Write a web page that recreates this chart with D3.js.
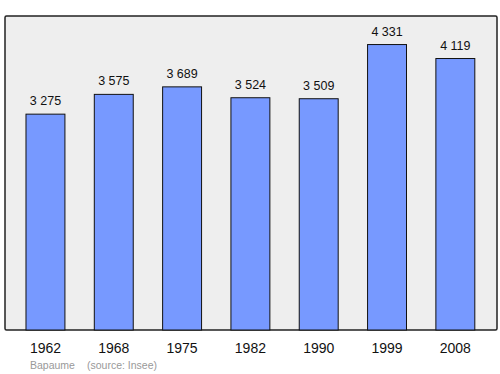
<!DOCTYPE html>
<html>
<head>
<meta charset="utf-8">
<script src="https://cdn.jsdelivr.net/npm/d3@7"></script>
<style>
  body { margin: 0; background: #fff; }
  text { font-family: "Liberation Sans", Arial, sans-serif; }
</style>
</head>
<body>
<svg id="chart" width="500" height="374"></svg>
<script>
var years = ["1962", "1968", "1975", "1982", "1990", "1999", "2008"];
var population = [3275, 3575, 3689, 3524, 3509, 4331, 4119];
var town = "Bapaume";
var source = "(source: Insee)";

var svg = d3.select("#chart");
var panel = { left: 5, top: 16, right: 497, bottom: 330 };

svg.append("rect")
    .attr("x", panel.left)
    .attr("y", panel.top)
    .attr("width", panel.right - panel.left)
    .attr("height", panel.bottom - panel.top)
    .attr("rx", 1.5)
    .style("fill", "#eeeeee")
    .style("stroke", "#222")
    .style("stroke-width", 1.5);

var x = d3.scaleBand()
    .domain(years)
    .range([11.3, 489.5])
    .paddingInner(0.43)
    .paddingOuter(0.215);

var y = d3.scaleLinear()
    .domain([0, d3.max(population) * 1.1])
    .range([panel.bottom, panel.top]);

var data = years.map(function(yr, i) { return { year: yr, value: population[i] }; });

var fmt = function(v) {
    // french style thousands separator
    return d3.format(",")(v).replace(",", " ");
};

svg.selectAll("rect.bar")
    .data(data)
    .enter().append("rect")
    .attr("class", "bar")
    .attr("x", function(d) { return x(d.year); })
    .attr("y", function(d) { return y(d.value); })
    .attr("width", x.bandwidth())
    .attr("height", function(d) { return panel.bottom - y(d.value); })
    .style("fill", "#7799ff")
    .style("stroke", "#111")
    .style("stroke-width", 1);

svg.selectAll("text.val")
    .data(data)
    .enter().append("text")
    .attr("class", "val")
    .attr("x", function(d) { return x(d.year) + x.bandwidth() / 2; })
    .attr("y", function(d) { return y(d.value) - 9; })
    .attr("text-anchor", "middle")
    .style("font-size", "12.5px")
    .style("fill", "#111")
    .text(function(d) { return fmt(d.value); });

svg.selectAll("text.year")
    .data(data)
    .enter().append("text")
    .attr("class", "year")
    .attr("x", function(d) { return x(d.year) + x.bandwidth() / 2; })
    .attr("y", 352.5)
    .attr("text-anchor", "middle")
    .style("font-size", "14px")
    .style("fill", "#111")
    .text(function(d) { return d.year; });

svg.append("text")
    .attr("x", 30)
    .attr("y", 368.5)
    .style("font-size", "10.5px")
    .style("fill", "#999")
    .text(town);

svg.append("text")
    .attr("x", 87)
    .attr("y", 368.5)
    .style("font-size", "10.5px")
    .style("fill", "#999")
    .text(source);
</script>
</body>
</html>
